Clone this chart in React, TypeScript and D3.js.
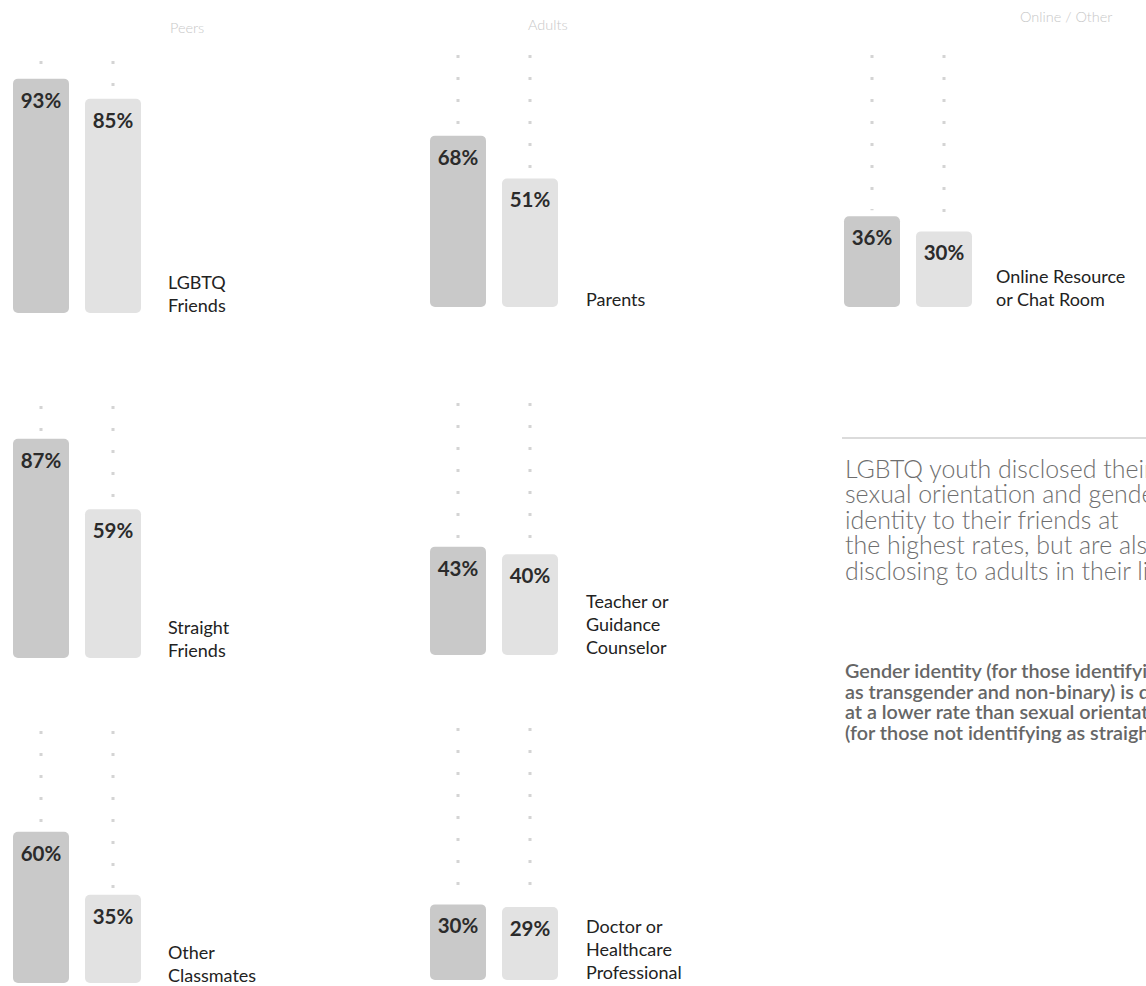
import React from 'react';
import * as d3 from 'd3';

// ---- data ----
const sections = ['Peers', 'Adults', 'Online / Other'];
const categoryLines: string[][] = [
  ['LGBTQ', 'Friends'],
  ['Straight', 'Friends'],
  ['Other', 'Classmates'],
  ['Parents'],
  ['Teacher or', 'Guidance', 'Counselor'],
  ['Doctor or', 'Healthcare', 'Professional'],
  ['Online Resource', 'or Chat Room'],
];
const categorySection = [0, 0, 0, 1, 1, 1, 2];
const sexualOrientation = [93, 87, 60, 68, 43, 30, 36];
const genderIdentity = [85, 59, 35, 51, 40, 29, 30];

const headline = [
  'LGBTQ youth disclosed their',
  'sexual orientation and gender',
  'identity to their friends at',
  'the highest rates, but are also',
  'disclosing to adults in their lives',
];
const note = [
  'Gender identity (for those identifying',
  'as transgender and non-binary) is disclosed',
  'at a lower rate than sexual orientation',
  '(for those not identifying as straight).',
];

// ---- layout ----
const W = 1146;
const H = 986;
const colX = [13, 430, 844];
const labelX = [168, 586, 996];
const headerPos = [
  [170, 33],
  [528, 30],
  [1020, 22],
];
const rowBase = [
  [313, 658, 983],
  [307, 655, 980],
  [307],
];
const barW = 56;
const barGap = 16;

const h = d3.scaleLinear().domain([0, 100]).range([0, 252]);

export default function App() {
  const rowCount = [0, 0, 0];
  const items = categoryLines.map((lines, i) => {
    const s = categorySection[i];
    const r = rowCount[s]++;
    return { lines, s, r, base: rowBase[s][r], vals: [sexualOrientation[i], genderIdentity[i]] };
  });
  const fills = ['#c9c9c9', '#e2e2e2'];
  return (
    <div style={{ position: 'absolute', left: 0, top: 0 }}>
      <style>{`body{margin:0}`}</style>
      <svg width={W} height={H} style={{ display: 'block', overflow: 'hidden', background: '#fff' }}>
        {sections.map((s, i) => (
          <text key={s} x={headerPos[i][0]} y={headerPos[i][1]} fontFamily="Lato" fontWeight={300} fontSize={14.5} fill="#c8c8c8">
            {s}
          </text>
        ))}
        {items.map((it, i) => {
          const x0 = colX[it.s];
          return (
            <g key={i}>
              {it.vals.map((v, j) => {
                const x = x0 + j * (barW + barGap);
                const cx = x + barW / 2;
                const top = it.base - h(v);
                return (
                  <g key={j}>
                    <line x1={cx} x2={cx} y1={it.base - h(100)} y2={top - 6} stroke="#d4d4d4" strokeWidth={3} strokeDasharray="3 19" />
                    <rect x={x} y={top} width={barW} height={h(v)} rx={5} fill={fills[j]} />
                    <text x={cx} y={top + 29} textAnchor="middle" fontFamily="Lato" fontWeight={700} fontSize={20.5} fill="#2b2b2b">
                      {v}%
                    </text>
                  </g>
                );
              })}
              {it.lines.map((ln, k) => (
                <text key={k} x={labelX[it.s]} y={it.base - 1 - (it.lines.length - 1 - k) * 23} fontFamily="Lato" fontSize={18} fill="#222">
                  {ln}
                </text>
              ))}
            </g>
          );
        })}
        <line x1={842} x2={W} y1={438} y2={438} stroke="#cfcfcf" strokeWidth={1.5} />
        <g transform="translate(845,0) scale(0.985,1)">
          {headline.map((t, i) => (
            <text key={i} x={0} y={478 + i * 25.5} fontFamily="Lato" fontWeight={300} fontSize={25.3} fill="#6e6e6e">
              {t}
            </text>
          ))}
        </g>
        {note.map((t, i) => (
          <text key={i} x={845} y={678 + i * 20.5} fontFamily="Lato" fontWeight={600} fontSize={19.8} fill="#666">
            {t}
          </text>
        ))}
      </svg>
    </div>
  );
}
